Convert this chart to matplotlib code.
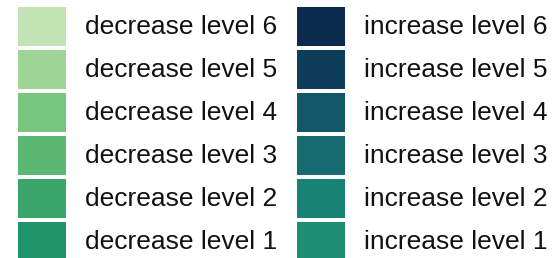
import matplotlib.pyplot as plt

dec_labels = ['decrease level 6', 'decrease level 5', 'decrease level 4',
              'decrease level 3', 'decrease level 2', 'decrease level 1']
inc_labels = ['increase level 6', 'increase level 5', 'increase level 4',
              'increase level 3', 'increase level 2', 'increase level 1']
dec_colors = ['#c2e4b4', '#9dd596', '#78c67d', '#5ab872', '#3ca66a', '#1f9469']
inc_colors = ['#0b2b4e', '#0e3d5a', '#125866', '#166c70', '#188276', '#1e8f73']

plt.rcParams['font.family'] = ['Liberation Sans', 'DejaVu Sans']

fig = plt.figure(figsize=(5.52, 2.58), dpi=100)
ax = fig.add_axes([0, 0, 1, 1])
ax.set_xlim(0, 552)
ax.set_ylim(258, 0)
ax.axis('off')

rows = range(len(dec_labels))
tops = [7 + 43 * i for i in rows]

ax.bar([18] * 6, [39] * 6, width=48, bottom=tops, align='edge',
       color=dec_colors, edgecolor='none')
ax.bar([297] * 6, [39] * 6, width=48, bottom=tops, align='edge',
       color=inc_colors, edgecolor='none')

for t, lab in zip(tops, dec_labels):
    ax.text(85, t + 20, lab, fontsize=19, va='center', ha='left', color='#111111')
for t, lab in zip(tops, inc_labels):
    ax.text(364, t + 20, lab, fontsize=19, va='center', ha='left', color='#111111')

fig.savefig('out.png', dpi=100)
